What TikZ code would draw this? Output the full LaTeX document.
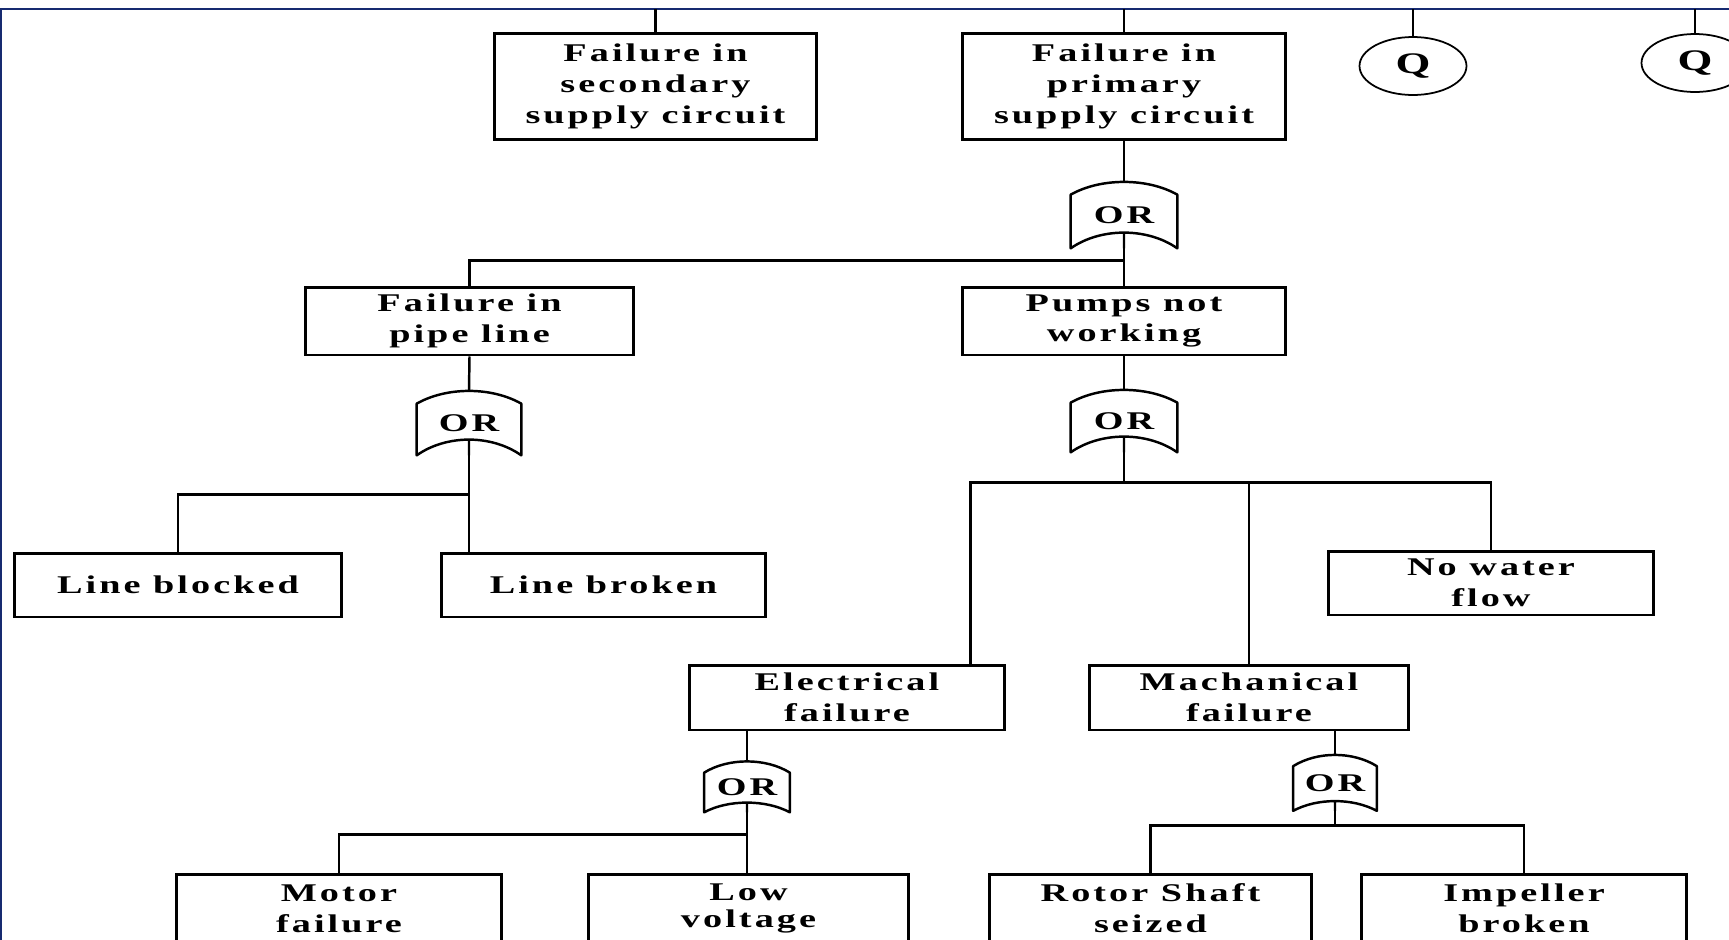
\documentclass[tikz,border=0pt]{standalone}
\usepackage{fontspec}
\setmainfont{Liberation Serif}[FakeStretch=1.5,LetterSpace=12.0]
\usetikzlibrary{shapes.geometric,calc}
\definecolor{frameblue}{RGB}{22,42,112}
\begin{document}
\begin{tikzpicture}[x=0.02cm,y=-0.02cm,
  box/.style={draw,line width=1.7pt,align=center,inner sep=0pt,font=\fontsize{14.5}{17.6}\selectfont\bfseries},
  gate/.style={inner sep=0pt,font=\fontsize{14.5}{17.6}\selectfont\bfseries},
  gateline/.style={line width=1.4pt,line join=round},
  qev/.style={draw,ellipse,line width=1pt,inner sep=0pt,minimum width=2.14cm,minimum height=1.16cm,font=\fontsize{17}{20}\selectfont\bfseries},
  link/.style={line width=1.4pt}]
\useasboundingbox (0,0) rectangle (1729,940);
\draw[frameblue,line width=1.2pt] (1,940) -- (1,9) -- (1729,9);
\coordinate (top) at (0,9);
\node[box,minimum width=6.46cm,minimum height=2.14cm] (sec) at (655.5,86.5) {Failure in\\secondary\\supply circuit};
\node[box,minimum width=6.48cm,minimum height=2.14cm] (pri) at (1124,86.5) {Failure in\\primary\\supply circuit};
\node[qev] (q1) at (1413,66) {Q};
\node[qev] (q2) at (1695,63) {Q};
\node[gate,minimum width=2.12cm,minimum height=1.32cm] (g1) at (1124,215) {OR};
\node[box,minimum width=6.58cm,minimum height=1.36cm] (pipe) at (469.5,321) {Failure in\\pipe line};
\node[box,minimum width=6.48cm,minimum height=1.36cm] (pumps) at (1124,321) {Pumps not\\working};
\node[gate,minimum width=2.08cm,minimum height=1.28cm] (g2) at (469,423) {OR};
\node[gate,minimum width=2.12cm,minimum height=1.24cm] (g3) at (1124,421) {OR};
\node[box,minimum width=6.54cm,minimum height=1.28cm] (blocked) at (178,585) {Line blocked};
\node[box,minimum width=6.5cm,minimum height=1.28cm] (broken) at (603.5,585) {Line broken};
\node[box,minimum width=6.52cm,minimum height=1.28cm] (nowater) at (1491,583) {No water\\flow};
\node[box,minimum width=6.32cm,minimum height=1.3cm] (elec) at (847,697.5) {Electrical\\failure};
\node[box,minimum width=6.4cm,minimum height=1.3cm] (mech) at (1249,697.5) {Machanical\\failure};
\node[gate,minimum width=1.7cm,minimum height=1cm] (g4) at (747,787) {OR};
\node[gate,minimum width=1.66cm,minimum height=1.1cm] (g5) at (1335,783) {OR};
\node[box,minimum width=6.52cm,minimum height=1.38cm] (motor) at (339,908.5) {Motor\\failure};
\node[box,minimum width=6.42cm,minimum height=1.38cm] (low) at (748.5,908.5) {Low\\[-2pt]voltage};
\node[box,minimum width=6.46cm,minimum height=1.38cm] (rotor) at (1150.5,908.5) {Rotor Shaft\\seized};
\node[box,minimum width=6.52cm,minimum height=1.38cm] (impeller) at (1524,908.5) {Impeller\\broken};
\foreach \g/\s/\c/\d/\w in {g1/13/17/21/30,g2/13/17/21/30,g3/13/17/21/30,g4/11/15/13/24,g5/11/15/13/24}
  \draw[gateline] (\g.south west) -- ($(\g.north west)+(0,\s)$) .. controls +(\w,-\c) and +(-\w,-\c) .. ($(\g.north east)+(0,\s)$) -- (\g.south east) .. controls +(-\w,-\d) and +(\w,-\d) .. (\g.south west) -- cycle (\g.south) -- ++(0,-0.75*\d);
\draw[link] (sec.north) -- (sec.north |- top);
\draw[link] (pri.north) -- (pri.north |- top);
\draw[link] (q1.north) -- (q1.north |- top);
\draw[link] (q2.north) -- (q2.north |- top);
\draw[link] (pri.south) -- (g1.north);
\draw[link] (g1.south) -- (pumps.north);
\draw[link] (pipe.north) -- ++(0,-25) -| (g1.south);
\draw[link] (pipe.south) -- (g2.north);
\draw[link] (g2.south) -- (broken.north -| g2.south);
\draw[link] (blocked.north) -- ++(0,-57) -| (g2.south);
\draw[link] (pumps.south) -- (g3.north);
\draw[link] (g3.south) -- ++(0,30) coordinate (pb);
\draw[link] ($(elec.north east)+(-36,0)$) |- (pb) -| (nowater.north);
\draw[link] (mech.north) -- (mech.north |- pb);
\draw[link] (g4.north) -- (g4.north |- elec.south);
\draw[link] (g4.south) -- (low.north -| g4.south);
\draw[link] (motor.north) -- ++(0,-38) -| (g4.south);
\draw[link] (g5.north) -- (g5.north |- mech.south);
\draw[link] (rotor.north) -- ++(0,-47) coordinate (mb) -| (impeller.north);
\draw[link] (g5.south) -- (g5.south |- mb);
\end{tikzpicture}
\end{document}
